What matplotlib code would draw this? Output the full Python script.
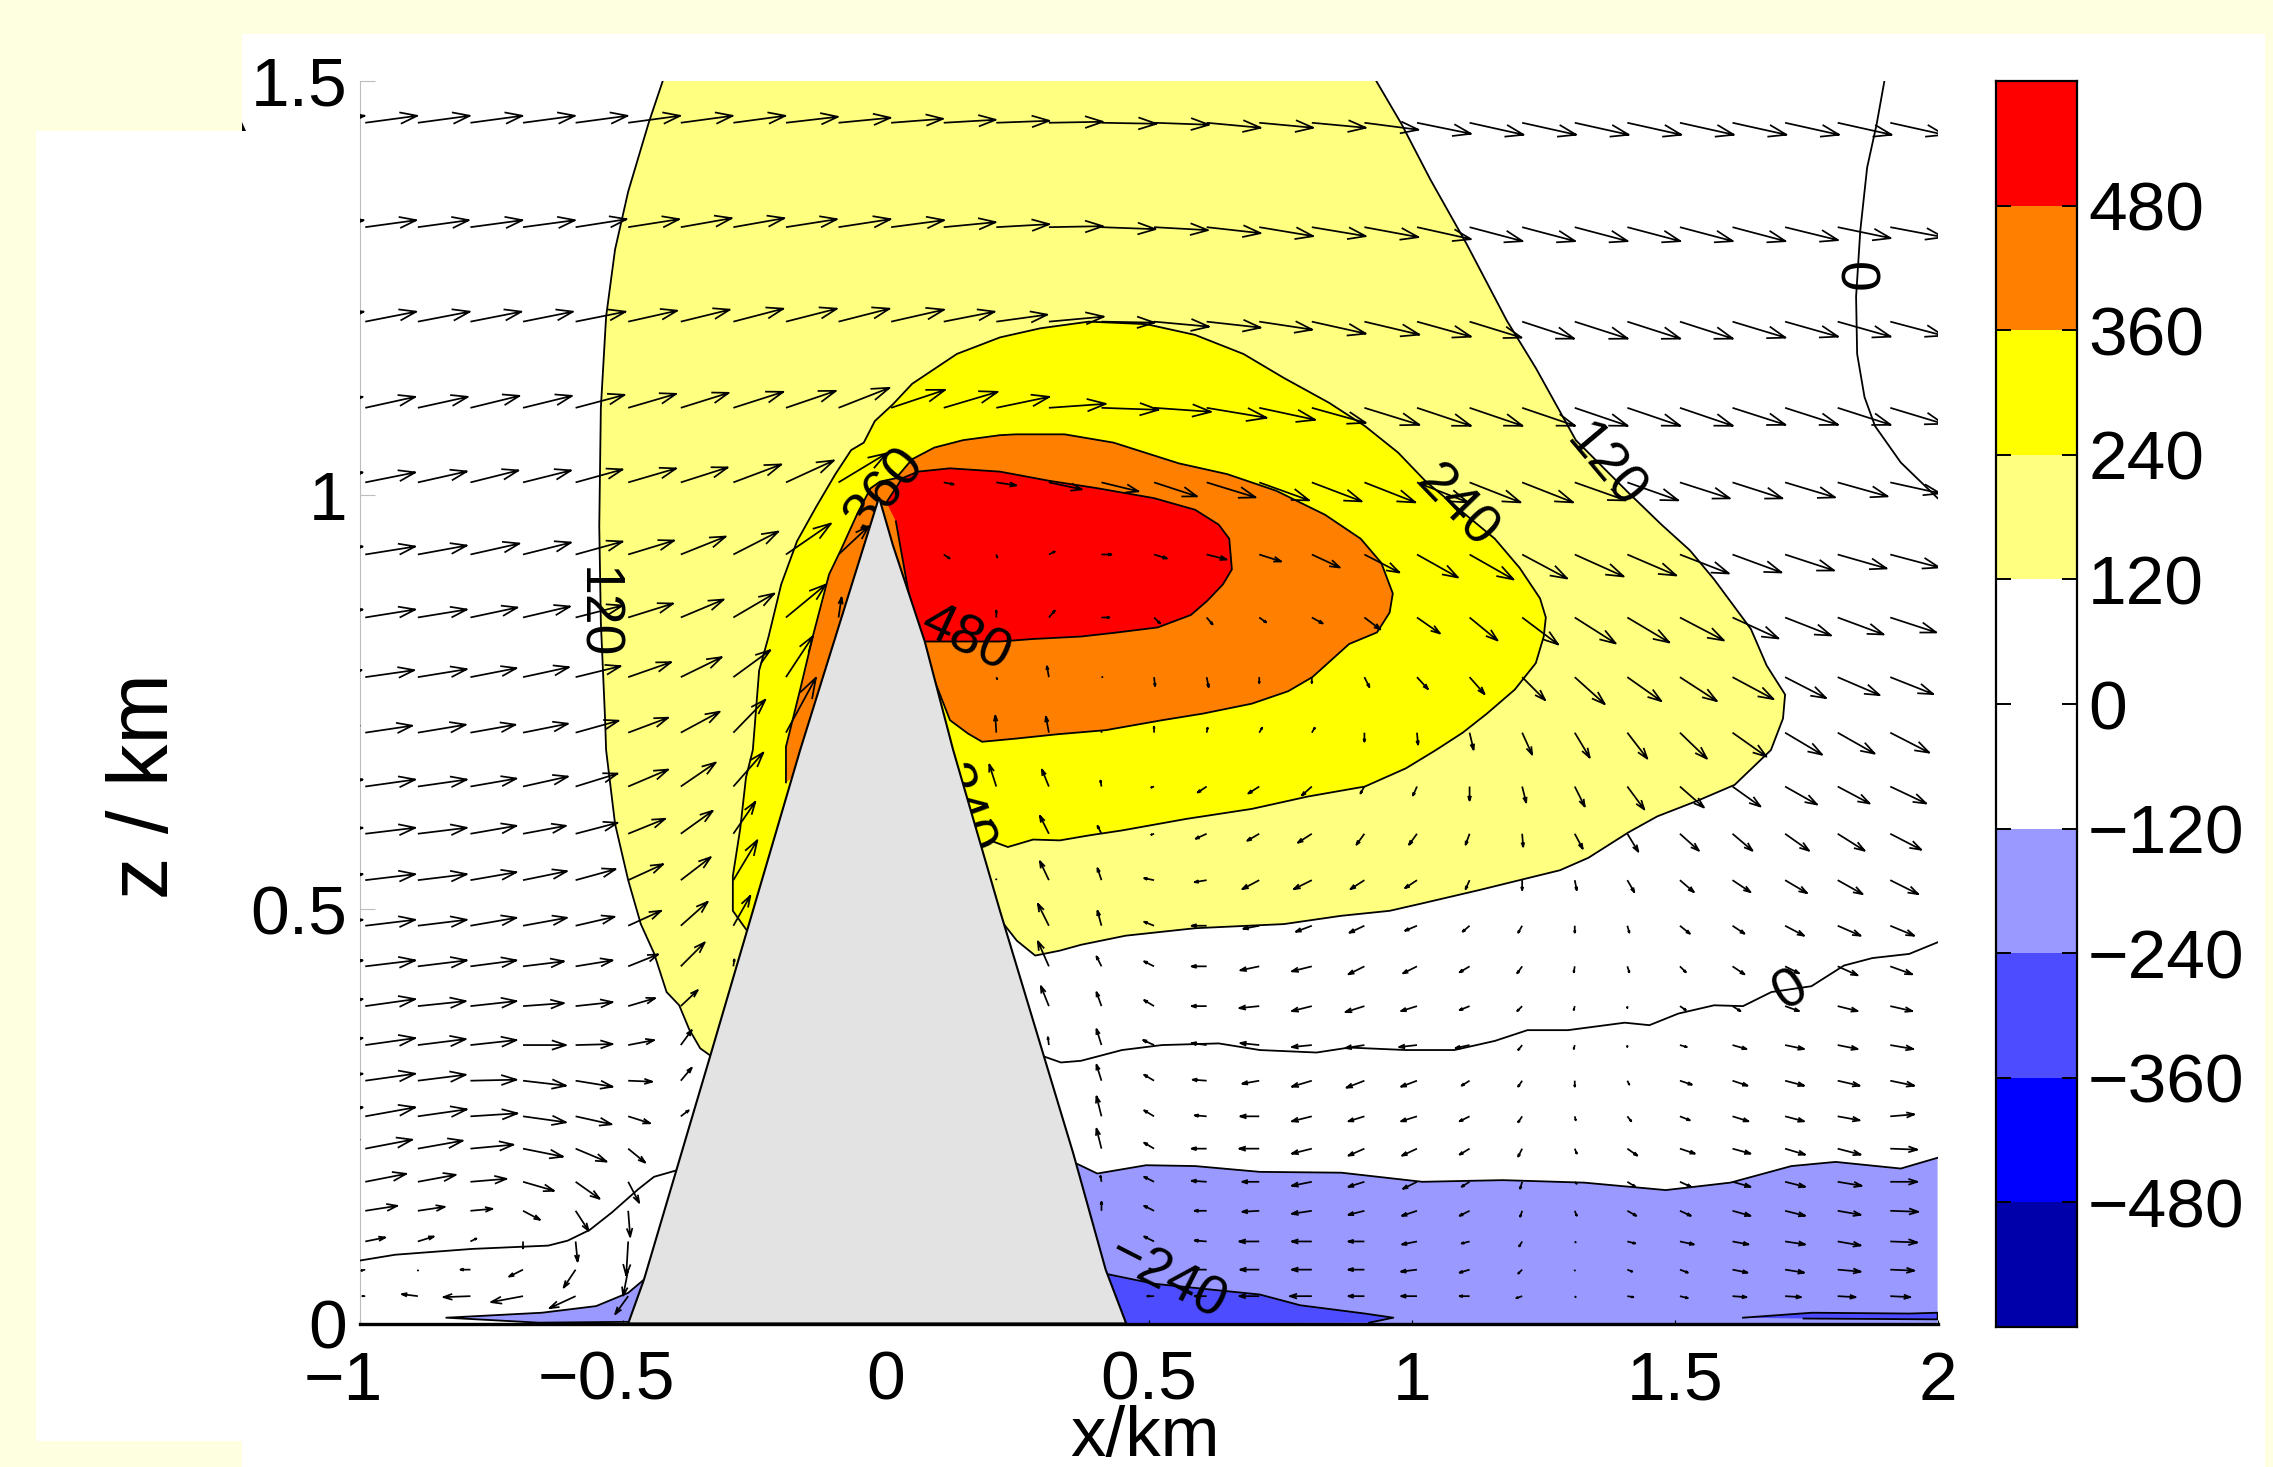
'''
vertical velocity shading over a triangular hill with wind vectors on top
contour outlines are read off the picture in km, arrows are stored per row
'''

import matplotlib
matplotlib.use('Agg')
import matplotlib.pyplot as plt
from matplotlib.colors import ListedColormap
from matplotlib.patches import Rectangle, Polygon
from matplotlib.transforms import ScaledTranslation
import numpy as np

plt.rcParams['font.family'] = ['Liberation Sans', 'DejaVu Sans']

# hill outline
hill_x = [-0.49, -0.46, -0.333, -0.264, -0.163, -0.013, 0.0135, 0.074, 0.128, 0.217, 0.356, 0.418, 0.457]
hill_z = [0.0, 0.053, 0.325, 0.474, 0.692, 0.997, 0.939, 0.823, 0.692, 0.498, 0.206, 0.065, 0.0]

# 120 level
pale_x = [-0.424, -0.451, -0.490, -0.515, -0.532, -0.542, -0.545, -0.542, -0.534, -0.532, -0.515, -0.490, -0.466,
          -0.441, -0.417, -0.393, -0.374, -0.353, -0.333, 0.223, 0.249, 0.284, 0.331, 0.371, 0.456, 0.588, 0.757,
          0.866, 0.958, 1.020, 1.128, 1.205, 1.282, 1.336, 1.413, 1.467, 1.544, 1.614, 1.683, 1.706, 1.710, 1.675,
          1.645, 1.575, 1.529, 1.475, 1.413, 1.312, 1.236, 1.181, 1.105, 1.035, 0.981, 0.932]
pale_z = [1.5, 1.449, 1.366, 1.296, 1.215, 1.105, 0.962, 0.846, 0.730, 0.692, 0.603, 0.535, 0.482,
          0.447, 0.400, 0.384, 0.355, 0.332, 0.323, 0.483, 0.462, 0.444, 0.450, 0.457, 0.468, 0.477, 0.482,
          0.492, 0.498, 0.507, 0.523, 0.535, 0.547, 0.562, 0.593, 0.612, 0.631, 0.650, 0.692, 0.730, 0.759, 0.794,
          0.838, 0.898, 0.933, 0.964, 1.002, 1.066, 1.153, 1.210, 1.302, 1.381, 1.447, 1.5]

# 240 level
yellow_x = [-0.264, -0.291, -0.291, -0.277, -0.266, -0.253, -0.241, -0.223, -0.199, -0.169, -0.133, -0.096, -0.066,
            -0.042, -0.021, 0.013, 0.050, 0.135, 0.217, 0.294, 0.386, 0.495, 0.588, 0.680, 0.757, 0.843, 0.911,
            0.974, 1.027, 1.097, 1.158, 1.205, 1.244, 1.255, 1.251, 1.236, 1.196, 1.143, 1.097, 1.046, 0.989,
            0.911, 0.803, 0.696, 0.572, 0.449, 0.386, 0.331, 0.280, 0.232, 0.198, 0.179]
yellow_z = [0.474, 0.498, 0.540, 0.597, 0.659, 0.692, 0.788, 0.829, 0.892, 0.944, 0.985, 1.025, 1.054,
            1.063, 1.089, 1.109, 1.134, 1.170, 1.190, 1.201, 1.209, 1.206, 1.193, 1.170, 1.141, 1.111, 1.083,
            1.051, 1.016, 0.979, 0.947, 0.912, 0.875, 0.852, 0.829, 0.797, 0.765, 0.736, 0.713, 0.692, 0.670,
            0.648, 0.636, 0.621, 0.609, 0.595, 0.589, 0.583, 0.584, 0.575, 0.583, 0.575]

# 360 level
orange_x = [-0.190, -0.190, -0.163, -0.139, -0.108, -0.086, -0.053, -0.029, -0.011, 0.019, 0.050, 0.092, 0.147, 0.217,
            0.247, 0.340, 0.433, 0.557, 0.649, 0.742, 0.835, 0.903, 0.942, 0.964, 0.958, 0.934, 0.881, 0.811, 0.765,
            0.696, 0.603, 0.525, 0.418, 0.325, 0.250, 0.183, 0.156, 0.122, 0.090]
orange_z = [0.653, 0.696, 0.765, 0.829, 0.904, 0.933, 0.979, 1.008, 1.016, 1.020, 1.043, 1.057, 1.066, 1.072,
            1.073, 1.073, 1.063, 1.038, 1.025, 1.005, 0.976, 0.947, 0.918, 0.881, 0.858, 0.834, 0.820, 0.780, 0.763,
            0.748, 0.736, 0.728, 0.716, 0.711, 0.706, 0.702, 0.712, 0.728, 0.780]

# 480 level
red_x = [0.001, 0.031, 0.061, 0.122, 0.217, 0.310, 0.402, 0.510, 0.588, 0.633, 0.653, 0.658, 0.641, 0.611, 0.580,
         0.517, 0.441, 0.371, 0.279, 0.217, 0.122, 0.074, 0.050, 0.019]
red_z = [0.991, 1.020, 1.028, 1.032, 1.028, 1.017, 1.008, 0.996, 0.982, 0.964, 0.947, 0.910, 0.892, 0.872, 0.855,
         0.840, 0.834, 0.829, 0.826, 0.823, 0.823, 0.823, 0.858, 0.968]

# -120 level, right of the hill and the small patch on the left
lblue_x = [0.356, 0.402, 0.495, 0.588, 0.711, 0.866, 1.020, 1.173, 1.328, 1.483, 1.606, 1.722, 1.806, 1.930, 2.0]
lblue_z = [0.195, 0.181, 0.191, 0.190, 0.183, 0.182, 0.171, 0.173, 0.170, 0.161, 0.170, 0.190, 0.195, 0.187, 0.200]
lblue_left_x = [-0.460, -0.490, -0.551, -0.654, -0.836, -0.660, -0.490]
lblue_left_z = [0.053, 0.037, 0.021, 0.013, 0.007, 0.001, 0.002]

# -240 level
mblue_x = [0.418, 0.510, 0.633, 0.711, 0.788, 0.911, 0.965, 0.919]
mblue_z = [0.060, 0.048, 0.040, 0.035, 0.022, 0.012, 0.007, 0.001]
mblue_right_x = [1.630, 1.761, 1.946, 2.0, 2.0, 1.745]
mblue_right_z = [0.007, 0.013, 0.012, 0.013, 0.005, 0.006]

# 0 level, line only
zero_top_x = [1.899, 1.884, 1.866, 1.853, 1.845, 1.847, 1.861, 1.881, 1.930, 2.0]
zero_top_z = [1.5, 1.447, 1.395, 1.319, 1.239, 1.170, 1.118, 1.083, 1.039, 0.996]
zero_mid_x = [2.0, 1.946, 1.876, 1.822, 1.760, 1.684, 1.630, 1.575, 1.507, 1.452, 1.405, 1.297, 1.220, 1.158, 1.081,
              0.989, 0.881, 0.819, 0.711, 0.633, 0.525, 0.449, 0.371, 0.333, 0.297]
zero_mid_z = [0.460, 0.446, 0.441, 0.432, 0.407, 0.400, 0.383, 0.384, 0.374, 0.360, 0.363, 0.354, 0.354, 0.341, 0.330,
              0.330, 0.333, 0.327, 0.330, 0.338, 0.336, 0.330, 0.317, 0.315, 0.323]
zero_left_x = [-1.0, -0.933, -0.787, -0.642, -0.605, -0.563, -0.521, -0.471, -0.441, -0.397]
zero_left_z = [0.076, 0.083, 0.090, 0.094, 0.100, 0.113, 0.134, 0.162, 0.177, 0.185]

# contour labels: text, x, z, angle
label_text = ['120', '120', '240', '480', '0', '0', '\u2212240', '360', '240']
label_x = [-0.552, 1.367, 1.084, 0.152, 1.838, 1.722, 0.533, 0.000, 0.142]
label_z = [0.857, 1.034, 0.985, 0.826, 1.262, 0.401, 0.053, 1.006, 0.619]
label_rot = [-90, -50, -46, -25, -90, 30, -27, 50, -70]

# arrow tails
x_cols = [-0.99, -0.89, -0.79, -0.69, -0.59, -0.49, -0.39, -0.29, -0.19, -0.09, 0.01, 0.11, 0.21, 0.31, 0.41,
          0.51, 0.61, 0.71, 0.81, 0.91, 1.01, 1.11, 1.21, 1.31, 1.41, 1.51, 1.61, 1.71, 1.81, 1.91]
z_rows = [1.449, 1.323, 1.209, 1.105, 1.015, 0.928, 0.852, 0.780, 0.713, 0.648, 0.591, 0.535,
          0.480, 0.431, 0.383, 0.336, 0.293, 0.250, 0.211, 0.171, 0.136, 0.099, 0.065, 0.033]

# arrow components per row, 0 0 means no arrow
U = [
    [52, 52, 52, 52, 52, 52, 52, 52, 52, 52, 52, 52, 53, 54, 55, 55, 54, 54, 54, 54, 54, 54, 54, 54, 54, 54, 54, 54, 54, 54],
    [51, 51, 52, 52, 51, 51, 51, 51, 51, 52, 53, 52, 53, 54, 54, 54, 54, 54, 54, 54, 54, 53, 53, 53, 53, 53, 53, 53, 53, 53],
    [51, 52, 51, 50, 50, 49, 49, 50, 51, 51, 53, 51, 51, 55, 53, 55, 54, 53, 54, 55, 54, 52, 52, 53, 53, 53, 53, 53, 53, 53],
    [50, 50, 49, 49, 49, 48, 48, 50, 50, 51, 54, 54, 53, 57, 57, 57, 60, 56, 54, 55, 54, 53, 53, 53, 53, 53, 53, 53, 53, 53],
    [50, 49, 48, 48, 47, 48, 47, 48, 48, 48, 0, 10, 20, 33, 37, 43, 49, 50, 50, 51, 51, 51, 51, 51, 51, 50, 50, 50, 50, 50],
    [50, 49, 49, 48, 47, 46, 45, 45, 45, 30, 0, 6, 1, 6, 10, 13, 20, 22, 28, 35, 41, 44, 45, 49, 49, 49, 49, 49, 49, 49],
    [50, 49, 47, 47, 47, 45, 43, 41, 40, 3, 0, 0, 0, 6, 8, 6, 6, 7, 11, 16, 23, 28, 36, 41, 42, 44, 46, 46, 46, 46],
    [49, 49, 46, 46, 45, 43, 41, 37, 27, 0, 0, 0, 1, -2, 1, 1, 2, 0, 0, 5, 11, 15, 23, 30, 34, 37, 41, 41, 42, 43],
    [47, 48, 45, 45, 43, 40, 39, 32, 30, 0, 0, 0, -1, -3, 0, 0, 1, 3, 3, 0, 1, 4, 10, 15, 20, 27, 34, 37, 37, 39],
    [50, 49, 46, 45, 42, 40, 35, 30, 0, 0, 0, 0, -7, -7, -1, -3, -9, -11, -10, -4, -4, 0, 4, 10, 17, 24, 28, 32, 32, 36],
    [50, 49, 46, 43, 42, 37, 32, 22, 0, 0, 0, 0, -6, -9, -4, -3, -11, -12, -14, -8, -8, -4, 1, 8, 11, 19, 20, 24, 27, 31],
    [50, 49, 46, 44, 40, 35, 30, 24, 0, 0, 0, 0, 0, -9, -4, -10, -12, -17, -18, -14, -12, -4, 0, 2, 7, 14, 18, 22, 25, 28],
    [50, 49, 46, 44, 39, 33, 27, 17, 0, 0, 0, 0, 0, -11, -4, -10, -15, -16, -16, -15, -12, -7, -4, 0, 2, 10, 12, 19, 23, 24],
    [50, 49, 46, 41, 37, 30, 24, 1, 0, 0, 0, 0, 0, -11, -5, -10, -15, -19, -20, -16, -14, -10, -5, -1, 2, 6, 12, 14, 20, 22],
    [50, 48, 46, 41, 37, 27, 17, 0, 0, 0, 0, 0, 0, -8, -5, -10, -15, -20, -20, -19, -16, -10, -5, -1, 0, 6, 8, 14, 20, 22],
    [50, 48, 46, 43, 37, 26, 11, 0, 0, 0, 0, 0, 0, -1, -5, -11, -15, -19, -20, -19, -18, -14, -4, -1, 0, 7, 14, 19, 20, 23],
    [50, 48, 46, 43, 37, 24, 11, 0, 0, 0, 0, 0, 0, 0, -5, -10, -14, -17, -20, -18, -16, -8, -4, 0, 2, 12, 15, 19, 22, 24],
    [50, 49, 47, 43, 36, 22, 8, 0, 0, 0, 0, 0, 0, 0, -5, -10, -12, -19, -20, -16, -16, -10, -4, 1, 4, 10, 16, 19, 22, 24],
    [47, 45, 43, 40, 31, 17, 0, 0, 0, 0, 0, 0, 0, 0, -5, -10, -15, -20, -20, -16, -15, -10, -4, 2, 10, 15, 18, 20, 23, 27],
    [41, 38, 36, 31, 24, 11, 0, 0, 0, 0, 0, 0, 0, 0, -1, -10, -15, -17, -20, -16, -14, -8, -2, 2, 8, 11, 18, 20, 24, 27],
    [32, 27, 22, 17, 13, 2, 0, 0, 0, 0, 0, 0, 0, 0, 0, -10, -12, -17, -20, -16, -15, -10, -2, 2, 9, 11, 18, 20, 23, 28],
    [20, 16, 6, 0, 2, -2, 0, 0, 0, 0, 0, 0, 0, 0, 0, -10, -12, -20, -20, -16, -15, -8, -3, 1, 8, 14, 16, 20, 23, 27],
    [-4, 0, -10, -14, -12, -5, 0, 0, 0, 0, 0, 0, 0, 0, 0, -5, -15, -19, -20, -16, -16, -10, -4, 0, 5, 8, 15, 19, 23, 24],
    [-3, -16, -27, -32, -26, -13, 0, 0, 0, 0, 0, 0, 0, 0, 0, -7, -12, -20, -22, -16, -16, -10, -6, 1, 6, 8, 14, 16, 18, 20],
]
W = [
    [7, 7, 7, 7, 7, 7, 7, 7, 6, 5, 4, 3, 2, 1, -1, -2, -5, -5, -5, -7, -11, -12, -12, -12, -12, -12, -12, -12, -12, -12],
    [7, 7, 7, 7, 8, 8, 9, 9, 8, 8, 7, 5, 3, 1, -2, -3, -6, -9, -9, -10, -12, -14, -14, -14, -14, -14, -14, -13, -11, -10],
    [10, 10, 10, 10, 10, 11, 12, 13, 13, 13, 12, 10, 7, 5, -1, -5, -6, -8, -12, -13, -15, -16, -17, -17, -17, -17, -16, -15, -15, -14],
    [11, 11, 12, 12, 13, 14, 15, 16, 17, 20, 18, 16, 11, 4, -2, -4, -10, -12, -15, -17, -18, -18, -18, -18, -18, -18, -17, -17, -17, -16],
    [10, 11, 12, 12, 13, 14, 15, 18, 22, 29, 0, -2, -3, -7, -9, -14, -15, -18, -19, -20, -20, -20, -20, -18, -18, -16, -16, -15, -14, -11],
    [8, 9, 11, 12, 13, 14, 18, 23, 31, 28, 0, -4, -3, 3, 0, -4, -5, -7, -13, -18, -23, -25, -24, -22, -21, -19, -18, -16, -14, -13],
    [8, 8, 10, 11, 12, 14, 18, 24, 33, 20, 0, 0, 7, 7, 0, -6, -7, -5, -6, -12, -16, -23, -27, -26, -25, -23, -21, -18, -17, -15],
    [7, 8, 9, 10, 11, 15, 20, 27, 41, 0, 0, 0, -2, 11, 0, -9, -10, -6, -6, -10, -12, -17, -23, -27, -24, -24, -22, -21, -18, -17],
    [7, 8, 8, 9, 12, 15, 21, 33, 55, 0, 0, 0, 17, 16, 1, 6, 5, 5, 5, -9, -12, -17, -22, -25, -26, -26, -24, -22, -21, -20],
    [7, 7, 8, 10, 13, 17, 24, 34, 0, 0, 0, 0, 22, 17, 6, -1, -6, -7, -9, -7, -9, -14, -16, -20, -23, -21, -20, -18, -17, -17],
    [6, 6, 8, 8, 11, 15, 23, 32, 0, 0, 0, 0, 14, 18, 8, -1, -5, -7, -9, -11, -11, -11, -13, -15, -18, -17, -17, -17, -17, -16],
    [6, 6, 8, 9, 11, 16, 23, 40, 0, 0, 0, 0, 1, 19, 12, 2, -2, -9, -9, -9, -8, -9, -10, -10, -12, -12, -12, -13, -14, -14],
    [6, 6, 8, 8, 9, 15, 24, 30, 0, 0, 0, 0, 0, 22, 15, 4, 0, -3, -6, -7, -5, -6, -7, -7, -7, -8, -8, -10, -10, -10],
    [6, 6, 6, 5, 6, 12, 24, 7, 0, 0, 0, 0, 0, 25, 10, 5, 0, -4, -5, -8, -7, -6, -7, -6, -6, -6, -8, -7, -9, -8],
    [7, 5, 5, 3, 4, 8, 16, 0, 0, 0, 0, 0, 0, 20, 14, 6, 0, -2, -5, -6, -5, -4, -5, -4, -2, -4, -5, -5, -5, -5],
    [7, 6, 5, 0, 1, 5, 15, 0, 0, 0, 0, 0, 0, 8, 16, 5, 2, 2, -2, -3, -2, -3, -5, -4, -2, -2, -4, -4, -4, -4],
    [7, 6, 1, -5, -6, -1, 13, 0, 0, 0, 0, 0, 0, 0, 16, 6, 1, -3, -6, -7, -6, -5, -6, -6, -4, -4, -5, -5, -5, -5],
    [9, 7, 3, -6, -8, -7, 6, 0, 0, 0, 0, 0, 0, 0, 20, 6, 1, 0, -5, -5, -5, -5, -6, -4, -5, -4, -5, -5, -4, 2],
    [9, 8, 4, -8, -13, -14, 0, 0, 0, 0, 0, 0, 0, 0, 20, 6, 0, 0, -5, -7, -7, -6, -8, -5, -7, -5, -5, -6, -6, -1],
    [8, 7, 3, -9, -17, -21, 0, 0, 0, 0, 0, 0, 0, 0, 6, 5, 1, 0, -4, -5, -7, -5, -7, -2, -5, -5, -5, -5, -4, 0],
    [5, 4, 2, -9, -20, -26, 0, 0, 0, 0, 0, 0, 0, 0, 9, 5, 0, -1, -3, -4, -5, -5, -6, -5, -5, -5, -5, -5, -4, -1],
    [4, 5, 3, -7, -20, -34, 0, 0, 0, 0, 0, 0, 0, 0, 0, 5, 1, 0, 0, 0, -3, -2, -5, -1, -2, -3, -3, -3, -4, -1],
    [-1, -1, 0, -7, -18, -26, 0, 0, 0, 0, 0, 0, 0, 0, 0, 1, 0, 0, 0, 0, -2, -3, -4, -1, -2, -3, -3, -3, -2, -1],
    [0, 2, -1, -6, -12, -18, 0, 0, 0, 0, 0, 0, 0, 0, 0, 0, 0, 0, 0, 0, 0, 0, -2, -1, -1, -2, -1, -1, -1, -1],
]

# colorbar
cbar_bounds = [-600, -480, -360, -240, -120, 120, 240, 360, 480, 600]
cbar_colors = ['#0000AA', '#0000FF', '#4D4DFF', '#9999FF', '#FFFFFF', '#FFFF80', '#FFFF00', '#FF8000', '#FF0000']
cbar_ticks = [-480, -360, -240, -120, 0, 120, 240, 360, 480]

x_ticks = [-1, -0.5, 0, 0.5, 1, 1.5, 2]
x_ticklabels = ['\u22121', '\u22120.5', '0', '0.5', '1', '1.5', '2']
z_ticks = [0, 0.5, 1, 1.5]
z_ticklabels = ['0', '0.5', '1', '1.5']

W_PX, H_PX = 2273, 1467
def fig_box(left, top, right, bottom):
    return [left / W_PX, 1 - bottom / H_PX, (right - left) / W_PX, (bottom - top) / H_PX]

fig = plt.figure(figsize=(W_PX / 100, H_PX / 100), dpi=100, facecolor='#FDFFE0')

# white panels behind the plot
for left, top, right, bottom in [(242, 34, 2265, 1467), (36, 131, 242, 1441)]:
    b = fig_box(left, top, right, bottom)
    fig.add_artist(Rectangle((b[0], b[1]), b[2], b[3], transform=fig.transFigure,
                             facecolor='white', edgecolor='none', zorder=-1))
# little black scrap at the panel corner
fig.add_artist(Polygon([(242 / W_PX, 1 - 122 / H_PX), (246 / W_PX, 1 - 131 / H_PX), (242 / W_PX, 1 - 131 / H_PX)],
                       transform=fig.transFigure, facecolor='k', edgecolor='none', zorder=-0.5))

ax = fig.add_axes(fig_box(360, 80.5, 1937.6, 1323.5))
ax.patch.set_alpha(0)
ax.set_xlim(-1, 2)
ax.set_ylim(0, 1.5)

line_kw = dict(color='k', lw=1.3, zorder=3)

# shaded levels, lowest first so that higher ones lie on top
ax.fill(pale_x, pale_z, color='#FFFF80', lw=0, zorder=1)
ax.plot(pale_x, pale_z, **line_kw)
ax.fill(yellow_x, yellow_z, color='#FFFF00', lw=0, zorder=1.1)
ax.plot(yellow_x, yellow_z, **line_kw)
ax.fill(orange_x, orange_z, color='#FF8000', lw=0, zorder=1.2)
ax.plot(orange_x, orange_z, **line_kw)
ax.fill(red_x, red_z, color='#FF0000', lw=0, zorder=1.3)
ax.plot(red_x, red_z, **line_kw)

ax.fill(lblue_x + [2.0, 0.4], lblue_z + [0.0, 0.0], color='#9999FF', lw=0, zorder=1)
ax.plot(lblue_x, lblue_z, **line_kw)
ax.fill(lblue_left_x, lblue_left_z, color='#9999FF', lw=0, zorder=1)
ax.plot(lblue_left_x, lblue_left_z, **line_kw)
ax.fill(mblue_x + [0.4], mblue_z + [0.0], color='#4D4DFF', lw=0, zorder=1.1)
ax.plot(mblue_x, mblue_z, **line_kw)
ax.fill(mblue_right_x, mblue_right_z, color='#4D4DFF', lw=0, zorder=1.1)
ax.plot(mblue_right_x, mblue_right_z, **line_kw)

ax.plot(zero_top_x, zero_top_z, **line_kw)
ax.plot(zero_mid_x, zero_mid_z, **line_kw)
ax.plot(zero_left_x, zero_left_z, **line_kw)

for t, x, z, r in zip(label_text, label_x, label_z, label_rot):
    ax.text(x, z, t, fontsize=40, rotation=r, ha='center', va='center', rotation_mode='anchor', zorder=4)

# open arrow heads like matlab quiver, worked out in the U W units then scaled to km
sx, sz = 1 / 525.9, 1 / 828.6
alpha, beta = 0.33, 0.33
ax_line_x, ax_line_z = [], []
def add_arrow(x, z, u, w):
    tip_u, tip_w = x / sx + u, z / sz + w
    b1 = (tip_u - alpha * (u + beta * w), tip_w - alpha * (w - beta * u))
    b2 = (tip_u - alpha * (u - beta * w), tip_w - alpha * (w + beta * u))
    ax_line_x.extend([x, tip_u * sx, np.nan, b1[0] * sx, tip_u * sx, b2[0] * sx, np.nan])
    ax_line_z.extend([z, tip_w * sz, np.nan, b1[1] * sz, tip_w * sz, b2[1] * sz, np.nan])

for j, z in enumerate(z_rows):
    # column just outside the axes, only its tip shows at the left edge
    if U[j][0] > 0:
        add_arrow(x_cols[0] - 0.1, z, U[j][0], W[j][0])
    for i, x in enumerate(x_cols):
        if U[j][i] != 0 or W[j][i] != 0:
            add_arrow(x, z, U[j][i], W[j][i])
ax.plot(ax_line_x, ax_line_z, color='k', lw=1.25, zorder=5, solid_capstyle='butt')

# hill on top of everything so it hides what runs under it
ax.fill(hill_x, hill_z, facecolor='#E3E3E3', edgecolor='k', lw=1.5, zorder=6)

for s in ['top', 'right']:
    ax.spines[s].set_visible(False)
ax.spines['left'].set_color('#BDBDBD')
ax.spines['left'].set_linewidth(0.8)
ax.spines['bottom'].set_linewidth(2.4)
ax.spines['bottom'].set_zorder(7)

ax.set_xticks(x_ticks)
ax.set_xticklabels(x_ticklabels)
ax.set_yticks(z_ticks)
ax.set_yticklabels(z_ticklabels)
ax.tick_params(axis='x', direction='in', length=3, width=0.8, labelsize=50, pad=19)
ax.tick_params(axis='y', direction='in', length=11, width=0.8, color='#BDBDBD', labelsize=50, pad=9)

# the negative labels sit further left than centred in the original
for lab in ax.get_xticklabels()[:2]:
    lab.set_transform(lab.get_transform() + ScaledTranslation(-0.17, 0, fig.dpi_scale_trans))

fig.text(1145 / W_PX, 1 - 1456 / H_PX, 'x/km', fontsize=51, ha='center', va='baseline')
fig.text(146 / W_PX, 1 - 786 / H_PX, 'z / km', fontsize=61, rotation=90, ha='center', va='center')

# colorbar as its own axes
cax = fig.add_axes(fig_box(1996, 81, 2077, 1327))
cmap = ListedColormap(cbar_colors)
vals = np.arange(len(cbar_colors))[:, None]
cax.pcolormesh([0, 1], cbar_bounds, vals, cmap=cmap, vmin=-0.5, vmax=len(cbar_colors) - 0.5)
cax.set_xticks([])
cax.set_yticks(cbar_ticks)
cax.set_yticklabels([str(t).replace('-', '\u2212') for t in cbar_ticks])
cax.yaxis.tick_right()
cax.tick_params(axis='y', which='both', direction='in', length=11, width=1.4, left=True, right=True, labelsize=50, pad=8)
for s in cax.spines.values():
    s.set_linewidth(1.6)

fig.savefig('out.png', dpi=100, facecolor=fig.get_facecolor())
